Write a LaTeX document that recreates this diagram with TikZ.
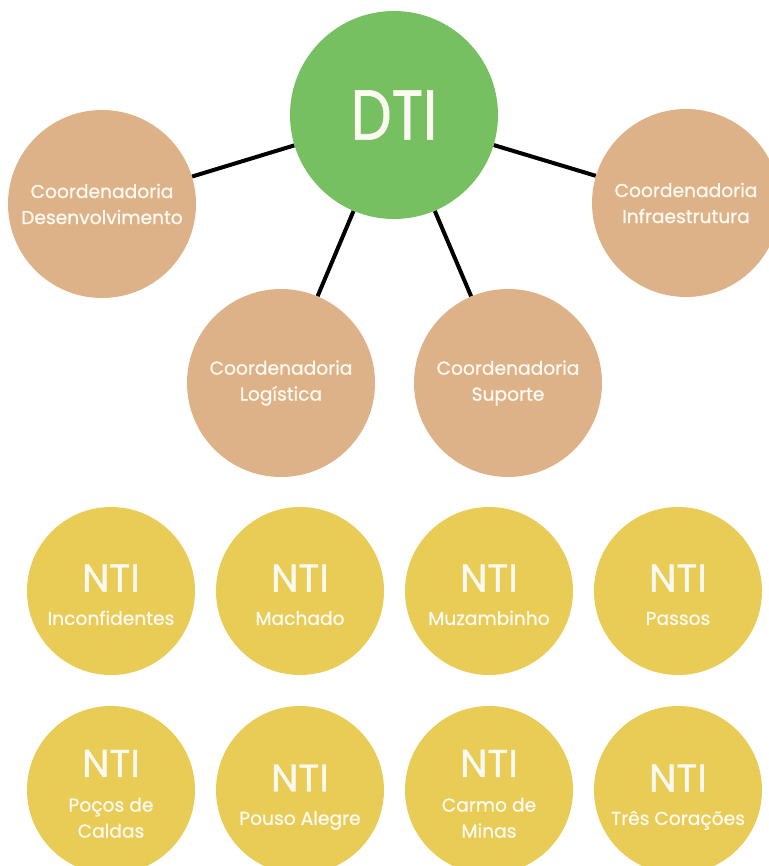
\documentclass[tikz,border=0pt]{standalone}
\usepackage{fontspec}
\setmainfont{Poppins}[FakeBold=1]
\usepackage{xcolor}
\usepackage{tikz}
\usetikzlibrary{positioning}
\definecolor{dtigreen}{RGB}{119,192,98}
\definecolor{coordtan}{RGB}{222,178,136}
\definecolor{ntiyellow}{RGB}{232,204,86}
\definecolor{textcream}{RGB}{252,249,240}
\newcommand{\ntititle}[1][26pt]{\rule{0pt}{#1}\fontsize{29}{29}\selectfont NTI}
\tikzset{
bubble/.style={%
    circle,
    inner sep=0pt,
    align=center,
    text=textcream,
    font=\fontsize{14}{19.5}\selectfont
},
dti node/.style={bubble, fill=dtigreen, minimum size=156pt},
coord node/.style={bubble, fill=coordtan, minimum size=141pt},
nti node/.style={bubble, fill=ntiyellow, minimum size=126pt},
link/.style={draw=black, line width=3pt},
}

\begin{document}
\begin{tikzpicture}[x=0.75pt, y=-0.75pt]
				\useasboundingbox (0,0) rectangle (768,866);

				% DTI and coordenadorias
				\node[dti node] at (394,115) (dti) {\fontsize{53}{53}\selectfont\scalebox{0.82}[1]{DTI}};
				\node[coord node] at (102,204) (desenv) {Coordenadoria\\Desenvolvimento};
				\node[coord node] at (686,203) (infra) {Coordenadoria\\Infraestrutura};
				\node[coord node] at (281,383) (logis) {Coordenadoria\\Logística};
				\node[coord node] at (508,383) (suporte) {Coordenadoria\\Suporte};

			\path (dti) edge[link] (desenv);
			\path (dti) edge[link] (infra);
			\path (dti) edge[link] (logis);
			\path (dti) edge[link] (suporte);

				% NTIs
				\node[nti node] at (111,591) (inconf) {\ntititle\\[5.5pt]Inconfidentes};
				\node[nti node] at (300,591) (machado) {\ntititle\\[5.5pt]Machado};
				\node[nti node] at (489,591) (muzamb) {\ntititle\\[5.5pt]Muzambinho};
				\node[nti node] at (678,591) (passos) {\ntititle\\[5.5pt]Passos};

				\node[nti node] at (111,790) (pocos) {\ntititle\\[6.5pt]Poços de\\Caldas};
				\node[nti node] at (300,790) (pouso) {\ntititle[31pt]\\[5.5pt]Pouso Alegre};
				\node[nti node] at (489,790) (carmo) {\ntititle\\[6.5pt]Carmo de\\Minas};
				\node[nti node] at (678,790) (tres) {\ntititle[31pt]\\[5.5pt]Três Corações};

			\end{tikzpicture}
\end{document}
